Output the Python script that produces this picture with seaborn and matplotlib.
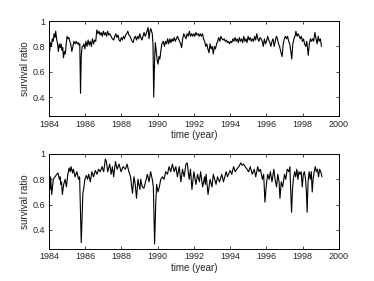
import numpy as np
import matplotlib
matplotlib.use('Agg')
import matplotlib.pyplot as plt
import seaborn as sns

# Serie 1 (oben) - Zeit und Ueberlebensrate
top_year = [
    1984.00, 1984.04, 1984.08, 1984.13, 1984.18, 1984.23, 1984.28, 1984.33, 1984.37, 1984.42,
    1984.47, 1984.52, 1984.57, 1984.62, 1984.67, 1984.72, 1984.76, 1984.80, 1984.85, 1984.90,
    1984.95, 1985.00, 1985.05, 1985.10, 1985.15, 1985.20, 1985.26, 1985.32, 1985.38, 1985.44,
    1985.50, 1985.56, 1985.62, 1985.66, 1985.70, 1985.74, 1985.78, 1985.83, 1985.88, 1985.93,
    1985.98, 1986.04, 1986.10, 1986.16, 1986.22, 1986.28, 1986.34, 1986.40, 1986.46, 1986.52,
    1986.58, 1986.64, 1986.70, 1986.76, 1986.82, 1986.88, 1986.94, 1987.00, 1987.06, 1987.12,
    1987.18, 1987.24, 1987.30, 1987.36, 1987.42, 1987.50, 1987.57, 1987.63, 1987.69, 1987.75,
    1987.81, 1987.87, 1987.93, 1987.99, 1988.05, 1988.11, 1988.17, 1988.23, 1988.29, 1988.35,
    1988.41, 1988.47, 1988.53, 1988.59, 1988.65, 1988.71, 1988.77, 1988.83, 1988.89, 1988.95,
    1989.01, 1989.07, 1989.13, 1989.19, 1989.25, 1989.31, 1989.37, 1989.43, 1989.47, 1989.52,
    1989.57, 1989.62, 1989.66, 1989.70, 1989.74, 1989.78, 1989.83, 1989.87, 1989.92, 1989.97,
    1990.02, 1990.07, 1990.12, 1990.17, 1990.23, 1990.31, 1990.37, 1990.43, 1990.49, 1990.55,
    1990.61, 1990.67, 1990.73, 1990.79, 1990.85, 1990.91, 1990.97, 1991.03, 1991.09, 1991.15,
    1991.21, 1991.27, 1991.32, 1991.38, 1991.44, 1991.50, 1991.56, 1991.62, 1991.68, 1991.75,
    1991.81, 1991.87, 1991.93, 1991.99, 1992.05, 1992.11, 1992.17, 1992.23, 1992.29, 1992.35,
    1992.41, 1992.47, 1992.53, 1992.59, 1992.65, 1992.71, 1992.77, 1992.83, 1992.89, 1992.95,
    1993.01, 1993.07, 1993.13, 1993.19, 1993.25, 1993.31, 1993.37, 1993.43, 1993.49, 1993.55,
    1993.61, 1993.67, 1993.73, 1993.79, 1993.85, 1993.91, 1993.97, 1994.03, 1994.09, 1994.15,
    1994.21, 1994.27, 1994.33, 1994.39, 1994.45, 1994.51, 1994.57, 1994.63, 1994.69, 1994.75,
    1994.81, 1994.87, 1994.93, 1994.99, 1995.05, 1995.11, 1995.17, 1995.23, 1995.29, 1995.35,
    1995.41, 1995.47, 1995.53, 1995.59, 1995.65, 1995.71, 1995.77, 1995.83, 1995.89, 1995.95,
    1996.01, 1996.07, 1996.13, 1996.19, 1996.25, 1996.31, 1996.37, 1996.43, 1996.49, 1996.55,
    1996.61, 1996.67, 1996.73, 1996.79, 1996.87, 1996.93, 1996.99, 1997.05, 1997.11, 1997.17,
    1997.23, 1997.29, 1997.35, 1997.40, 1997.46, 1997.52, 1997.58, 1997.63, 1997.69, 1997.75,
    1997.81, 1997.87, 1997.93, 1997.99, 1998.05, 1998.11, 1998.17, 1998.23, 1998.31, 1998.37,
    1998.43, 1998.49, 1998.55, 1998.61, 1998.68, 1998.74, 1998.80, 1998.86, 1998.92, 1998.98,
    1999.04,
]
top_ratio = [
    0.82, 0.76, 0.83, 0.80, 0.86, 0.84, 0.90, 0.87, 0.92, 0.86,
    0.82, 0.76, 0.82, 0.79, 0.82, 0.77, 0.79, 0.71, 0.76, 0.74,
    0.82, 0.88, 0.86, 0.87, 0.84, 0.82, 0.76, 0.80, 0.84, 0.82,
    0.84, 0.82, 0.83, 0.81, 0.82, 0.43, 0.72, 0.80, 0.80, 0.82,
    0.78, 0.84, 0.80, 0.85, 0.81, 0.84, 0.80, 0.86, 0.82, 0.85,
    0.84, 0.93, 0.90, 0.92, 0.89, 0.91, 0.88, 0.92, 0.89, 0.91,
    0.88, 0.92, 0.89, 0.90, 0.88, 0.86, 0.85, 0.88, 0.90, 0.87,
    0.89, 0.85, 0.84, 0.87, 0.85, 0.88, 0.86, 0.89, 0.90, 0.92,
    0.89, 0.88, 0.86, 0.84, 0.83, 0.87, 0.88, 0.85, 0.88, 0.86,
    0.90, 0.87, 0.85, 0.88, 0.91, 0.88, 0.90, 0.93, 0.95, 0.86,
    0.92, 0.94, 0.92, 0.90, 0.82, 0.40, 0.70, 0.83, 0.76, 0.69,
    0.66, 0.72, 0.70, 0.76, 0.82, 0.84, 0.80, 0.84, 0.82, 0.86,
    0.82, 0.86, 0.83, 0.86, 0.84, 0.87, 0.84, 0.86, 0.88, 0.86,
    0.84, 0.82, 0.79, 0.86, 0.90, 0.88, 0.86, 0.90, 0.88, 0.92,
    0.88, 0.90, 0.88, 0.90, 0.88, 0.91, 0.89, 0.90, 0.88, 0.90,
    0.88, 0.90, 0.86, 0.84, 0.80, 0.82, 0.78, 0.75, 0.82, 0.78,
    0.80, 0.74, 0.80, 0.78, 0.82, 0.84, 0.87, 0.84, 0.88, 0.86,
    0.85, 0.86, 0.84, 0.85, 0.83, 0.84, 0.82, 0.84, 0.83, 0.86,
    0.84, 0.87, 0.84, 0.86, 0.83, 0.87, 0.84, 0.86, 0.83, 0.88,
    0.84, 0.86, 0.83, 0.88, 0.85, 0.87, 0.84, 0.86, 0.84, 0.88,
    0.85, 0.90, 0.86, 0.84, 0.87, 0.86, 0.84, 0.80, 0.86, 0.82,
    0.84, 0.88, 0.85, 0.83, 0.80, 0.84, 0.86, 0.80, 0.84, 0.88,
    0.86, 0.82, 0.80, 0.76, 0.72, 0.82, 0.86, 0.88, 0.86, 0.88,
    0.84, 0.82, 0.76, 0.70, 0.82, 0.86, 0.88, 0.92, 0.88, 0.90,
    0.88, 0.86, 0.88, 0.84, 0.86, 0.82, 0.80, 0.84, 0.73, 0.82,
    0.86, 0.84, 0.86, 0.84, 0.91, 0.86, 0.82, 0.88, 0.84, 0.86,
    0.80,
]

# Serie 2 (unten)
bottom_year = [
    1984.00, 1984.06, 1984.09, 1984.15, 1984.24, 1984.33, 1984.43, 1984.50, 1984.57, 1984.61,
    1984.65, 1984.69, 1984.74, 1984.81, 1984.89, 1984.96, 1985.04, 1985.11, 1985.17, 1985.22,
    1985.30, 1985.35, 1985.44, 1985.54, 1985.63, 1985.69, 1985.78, 1985.87, 1985.93, 1985.98,
    1986.06, 1986.13, 1986.19, 1986.28, 1986.37, 1986.46, 1986.56, 1986.65, 1986.74, 1986.83,
    1986.93, 1987.02, 1987.11, 1987.17, 1987.24, 1987.35, 1987.43, 1987.50, 1987.57, 1987.67,
    1987.76, 1987.87, 1987.98, 1988.09, 1988.22, 1988.31, 1988.41, 1988.50, 1988.61, 1988.69,
    1988.76, 1988.83, 1988.91, 1988.96, 1989.02, 1989.06, 1989.15, 1989.24, 1989.33, 1989.43,
    1989.52, 1989.61, 1989.70, 1989.76, 1989.83, 1989.89, 1989.94, 1990.02, 1990.09, 1990.17,
    1990.26, 1990.35, 1990.44, 1990.54, 1990.63, 1990.72, 1990.81, 1990.91, 1991.00, 1991.09,
    1991.19, 1991.28, 1991.37, 1991.46, 1991.56, 1991.63, 1991.74, 1991.81, 1991.89, 1992.00,
    1992.11, 1992.20, 1992.30, 1992.37, 1992.48, 1992.59, 1992.63, 1992.67, 1992.78, 1992.89,
    1993.00, 1993.07, 1993.22, 1993.30, 1993.41, 1993.54, 1993.63, 1993.78, 1993.85, 1994.00,
    1994.09, 1994.19, 1994.28, 1994.37, 1994.48, 1994.59, 1994.67, 1994.74, 1994.83, 1994.93,
    1995.02, 1995.11, 1995.22, 1995.33, 1995.41, 1995.52, 1995.59, 1995.67, 1995.78, 1995.85,
    1995.92, 1996.00, 1996.07, 1996.15, 1996.22, 1996.31, 1996.41, 1996.48, 1996.56, 1996.63,
    1996.70, 1996.75, 1996.82, 1996.90, 1997.00, 1997.07, 1997.15, 1997.24, 1997.30, 1997.34,
    1997.39, 1997.44, 1997.49, 1997.56, 1997.62, 1997.68, 1997.74, 1997.80, 1997.86, 1997.92,
    1997.98, 1998.04, 1998.10, 1998.16, 1998.21, 1998.25, 1998.30, 1998.36, 1998.42, 1998.48,
    1998.53, 1998.58, 1998.64, 1998.70, 1998.76, 1998.82, 1998.88, 1998.94, 1999.00, 1999.07,
]
bottom_ratio = [
    0.80, 0.72, 0.82, 0.68, 0.80, 0.82, 0.84, 0.85, 0.80, 0.82,
    0.76, 0.78, 0.68, 0.76, 0.80, 0.74, 0.84, 0.89, 0.86, 0.90,
    0.85, 0.88, 0.82, 0.86, 0.80, 0.82, 0.30, 0.69, 0.74, 0.80,
    0.83, 0.80, 0.84, 0.78, 0.86, 0.82, 0.87, 0.84, 0.88, 0.86,
    0.90, 0.86, 0.96, 0.94, 0.86, 0.92, 0.84, 0.90, 0.82, 0.94,
    0.88, 0.92, 0.86, 0.90, 0.88, 0.92, 0.86, 0.82, 0.69, 0.82,
    0.76, 0.65, 0.80, 0.76, 0.72, 0.80, 0.74, 0.73, 0.78, 0.84,
    0.78, 0.86, 0.80, 0.74, 0.29, 0.60, 0.76, 0.70, 0.74, 0.80,
    0.82, 0.80, 0.86, 0.84, 0.90, 0.86, 0.92, 0.86, 0.90, 0.82,
    0.90, 0.78, 0.88, 0.82, 0.92, 0.93, 0.80, 0.88, 0.72, 0.86,
    0.76, 0.84, 0.78, 0.86, 0.74, 0.82, 0.76, 0.84, 0.68, 0.80,
    0.74, 0.84, 0.76, 0.82, 0.78, 0.84, 0.78, 0.86, 0.82, 0.87,
    0.84, 0.90, 0.86, 0.88, 0.90, 0.93, 0.91, 0.92, 0.90, 0.88,
    0.86, 0.90, 0.84, 0.88, 0.82, 0.90, 0.86, 0.88, 0.80, 0.84,
    0.62, 0.76, 0.84, 0.80, 0.86, 0.78, 0.88, 0.80, 0.74, 0.84,
    0.78, 0.65, 0.78, 0.74, 0.84, 0.80, 0.88, 0.86, 0.90, 0.72,
    0.54, 0.72, 0.80, 0.86, 0.82, 0.88, 0.80, 0.86, 0.84, 0.86,
    0.74, 0.84, 0.86, 0.80, 0.70, 0.54, 0.78, 0.86, 0.80, 0.86,
    0.70, 0.80, 0.86, 0.90, 0.86, 0.88, 0.82, 0.88, 0.86, 0.82,
]

x_ticks = [1984, 1986, 1988, 1990, 1992, 1994, 1996, 1998, 2000]
y_ticks = [0.4, 0.6, 0.8, 1.0]
y_tick_labels = ['0.4', '0.6', '0.8', '1']

sns.set_style('ticks')
plt.rcParams['font.family'] = ['Liberation Sans', 'DejaVu Sans']
plt.rcParams['xtick.direction'] = 'in'
plt.rcParams['ytick.direction'] = 'in'

fig = plt.figure(figsize=(3.74, 2.81), dpi=100)
ax1 = fig.add_axes([0.131, 0.587, 0.775, 0.338])
ax2 = fig.add_axes([0.131, 0.114, 0.775, 0.338])

for ax, yr, val in [(ax1, top_year, top_ratio), (ax2, bottom_year, bottom_ratio)]:
    sns.lineplot(x=yr, y=val, ax=ax, color='black', linewidth=0.8, estimator=None)
    ax.set_xlim(1984, 2000)
    ax.set_ylim(0.25, 1.0)
    ax.set_xticks(x_ticks)
    ax.set_yticks(y_ticks)
    ax.set_yticklabels(y_tick_labels)
    ax.tick_params(labelsize=6.5, length=2.5, width=0.6, top=True, right=True, pad=2.5)
    ax.set_xlabel('time (year)', fontsize=7, labelpad=1)
    ax.set_ylabel('survival ratio', fontsize=7, labelpad=2)
    for s in ax.spines.values():
        s.set_visible(True)
        s.set_linewidth(0.7)
        s.set_color('black')

fig.savefig('out.png', dpi=100)
